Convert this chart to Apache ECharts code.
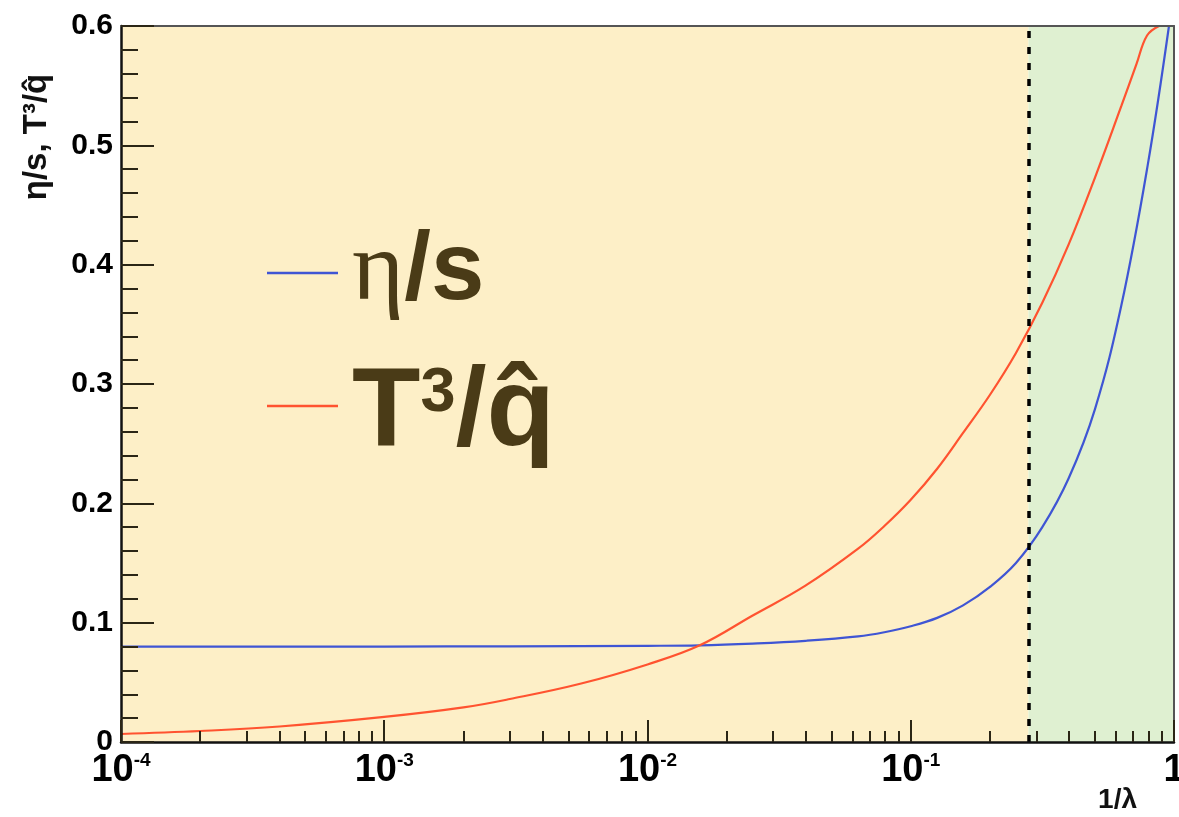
<!DOCTYPE html>
<html>
<head>
<meta charset="utf-8">
<script src="https://cdn.jsdelivr.net/npm/echarts@6/dist/echarts.min.js"></script>
<style>
html,body{margin:0;padding:0;background:#ffffff;}
#chart{width:1179px;height:817px;}
</style>
</head>
<body>
<div id="chart"></div>
<script>
// ---- data ----
const seriesNames = ['η/s', 'T³/q̂'];
const etaX = [1e-4, 1e-3, 3e-3, 0.01, 0.0158, 0.0251, 0.0398, 0.0631, 0.0794, 0.1, 0.126, 0.158, 0.2, 0.251, 0.316, 0.398, 0.501, 0.631, 0.794, 0.957];
const etaY = [0.080, 0.080, 0.0802, 0.0806, 0.081, 0.0825, 0.0848, 0.0885, 0.092, 0.097, 0.104, 0.1145, 0.130, 0.150, 0.180, 0.221, 0.279, 0.366, 0.483, 0.600];
const qX = [1e-4, 2e-4, 4e-4, 1e-3, 2e-3, 3e-3, 5.6e-3, 0.01, 0.0158, 0.0251, 0.0398, 0.0631, 0.0794, 0.1, 0.126, 0.158, 0.2, 0.251, 0.316, 0.398, 0.501, 0.631, 0.72, 0.79, 0.877];
const qY = [0.0067, 0.0092, 0.013, 0.021, 0.029, 0.036, 0.049, 0.065, 0.081, 0.106, 0.131, 0.162, 0.181, 0.203, 0.229, 0.259, 0.291, 0.326, 0.368, 0.417, 0.473, 0.533, 0.568, 0.592, 0.600];
const boundaryX = 0.28;
const xMin = 1e-4, xMax = 1;
const yMin = 0, yMax = 0.6, yStep = 0.1;
const xMinorTicks = [2e-4, 3e-4, 4e-4, 5e-4, 6e-4, 7e-4, 8e-4, 9e-4,
                     2e-3, 3e-3, 4e-3, 5e-3, 6e-3, 7e-3, 8e-3, 9e-3,
                     2e-2, 3e-2, 4e-2, 5e-2, 6e-2, 7e-2, 8e-2, 9e-2,
                     0.2, 0.3, 0.4, 0.5, 0.6, 0.7, 0.8, 0.9];
const xTitle = '1/λ';
const yTitle = 'η/s, T³/q̂';

const etaData = etaX.map((x, i) => [x, etaY[i]]);
const qData = qX.map((x, i) => [x, qY[i]]);

const tickColor = '#2b2616';
const textBrown = '#4a3b17';
const sansBold = "'Liberation Sans', Arial, Helvetica, sans-serif";
const narrow = "'Liberation Sans Narrow', 'Liberation Sans', Arial, sans-serif";

const chart = echarts.init(document.getElementById('chart'), null, {renderer: 'canvas'});

const option = {
  animation: false,
  backgroundColor: '#ffffff',
  grid: {left: 121, right: 5, top: 26, bottom: 75, show: false, containLabel: false, outerBoundsMode: 'none'},
  xAxis: [
    {
      type: 'log', logBase: 10, min: xMin, max: xMax, position: 'bottom', z: 5,
      axisLine: {show: true, lineStyle: {color: '#111', width: 2.5}},
      axisTick: {show: true, inside: true, length: 22, lineStyle: {color: tickColor, width: 2}},
      minorTick: {show: false},
      splitLine: {show: false},
      axisLabel: {
        show: true, margin: 9, hideOverlap: false,
        formatter: function (v) {
          const e = Math.round(Math.log10(v));
          return e === 0 ? '{b|1}' : '{b|10}{s|' + e + '}';
        },
        rich: {
          b: {fontFamily: narrow, fontWeight: 'bold', fontSize: 38, lineHeight: 40, color: '#000'},
          s: {fontFamily: narrow, fontWeight: 'bold', fontSize: 19, lineHeight: 19, verticalAlign: 'top', color: '#000'}
        }
      }
    },
    {
      type: 'log', logBase: 10, min: xMin, max: xMax, position: 'bottom', z: 5,
      axisLine: {show: false},
      axisTick: {show: true, inside: true, length: 11, customValues: xMinorTicks, lineStyle: {color: tickColor, width: 2}},
      axisLabel: {show: false},
      splitLine: {show: false}
    },
    {
      type: 'log', logBase: 10, min: xMin, max: xMax, position: 'top', z: 5,
      axisLine: {show: true, lineStyle: {color: '#555', width: 2}},
      axisTick: {show: false}, axisLabel: {show: false}, splitLine: {show: false}
    }
  ],
  yAxis: [
    {
      type: 'value', min: yMin, max: yMax, interval: yStep, position: 'left', z: 5,
      axisLine: {show: true, lineStyle: {color: '#111', width: 2.5}},
      axisTick: {show: true, inside: true, length: 33, lineStyle: {color: tickColor, width: 2}},
      minorTick: {show: true, splitNumber: 5, length: 17, lineStyle: {color: tickColor, width: 2}},
      splitLine: {show: false},
      axisLabel: {margin: 8, fontFamily: sansBold, fontWeight: 'bold', fontSize: 30, color: '#000'}
    },
    {
      type: 'value', min: yMin, max: yMax, interval: yStep, position: 'right', z: 5,
      axisLine: {show: true, lineStyle: {color: '#555', width: 2}},
      axisTick: {show: false}, axisLabel: {show: false}, splitLine: {show: false}
    }
  ],
  legend: {
    orient: 'vertical', left: 267, top: 223, padding: 0,
    itemWidth: 71, itemHeight: 2.5, itemGap: 19,
    icon: 'rect', selectedMode: false,
    data: seriesNames,
    formatter: function (name) {
      return name === seriesNames[0] ? '{e|η}{b|/s}' : '{t0|T}{sup|3}{t|/q̂}';
    },
    textStyle: {
      color: textBrown,
      rich: {
        e: {fontFamily: "'Liberation Serif', 'DejaVu Serif', serif", fontSize: 100, lineHeight: 120, color: textBrown, padding: [0, 0, 0, 9]},
        b: {fontFamily: sansBold, fontWeight: 'bold', fontSize: 96, lineHeight: 120, color: textBrown},
        t0: {fontFamily: sansBold, fontWeight: 'bold', fontSize: 112, lineHeight: 120, color: textBrown, padding: [16, 0, 0, 9]},
        t: {fontFamily: sansBold, fontWeight: 'bold', fontSize: 112, lineHeight: 120, color: textBrown, padding: [16, 0, 0, 0]},
        sup: {fontFamily: sansBold, fontWeight: 'bold', fontSize: 63, lineHeight: 63, verticalAlign: 'top', color: textBrown, padding: [16, 0, 0, 0]}
      }
    }
  },
  graphic: [
    {
      type: 'text', x: 37, y: 137, rotation: Math.PI / 2, z: 10,
      style: {text: yTitle, fontFamily: sansBold, fontWeight: 'bold', fontSize: 33, fill: '#111', align: 'center', verticalAlign: 'middle'}
    },
    {
      type: 'text', right: 42, bottom: 3, z: 10,
      style: {text: xTitle, fontFamily: sansBold, fontWeight: 'bold', fontSize: 28, fill: '#111'}
    }
  ],
  series: [
    {
      name: 'regions', type: 'line', data: [], z: 1, silent: true,
      xAxisIndex: 0, yAxisIndex: 0,
      markArea: {
        silent: true,
        label: {show: false},
        data: [
          [{xAxis: xMin, itemStyle: {color: '#fdefc7'}}, {xAxis: boundaryX}],
          [{xAxis: boundaryX, itemStyle: {color: '#dff0d1'}}, {xAxis: xMax}]
        ]
      }
    },
    {
      name: seriesNames[0], type: 'line', data: etaData, z: 3,
      xAxisIndex: 0, yAxisIndex: 0,
      color: '#3f55d4', showSymbol: false, smooth: 0.4,
      lineStyle: {color: '#3f55d4', width: 2.2}
    },
    {
      name: seriesNames[1], type: 'line', data: qData, z: 3,
      xAxisIndex: 0, yAxisIndex: 0,
      color: '#ff5330', showSymbol: false, smooth: 0.4,
      lineStyle: {color: '#ff5330', width: 2.2},
      markLine: {
        silent: true, symbol: ['none', 'none'],
        label: {show: false},
        lineStyle: {color: '#000', width: 3.5, type: [7, 9]},
        data: [{xAxis: boundaryX}]
      }
    }
  ]
};
chart.setOption(option);
</script>
</body>
</html>
